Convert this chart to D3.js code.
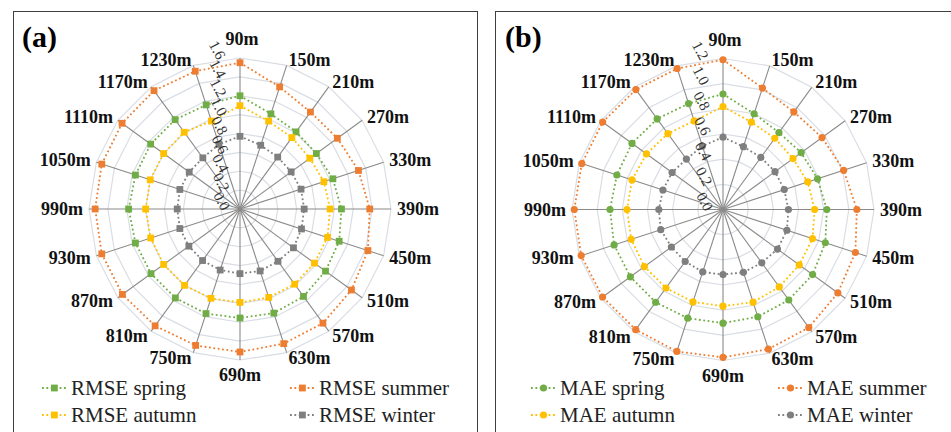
<!DOCTYPE html>
<html>
<head>
<meta charset="utf-8">
<script src="https://cdn.jsdelivr.net/npm/d3@7"></script>
<style>
  body { margin: 0; background: #fff; }
  svg { display: block; }
  text { font-family: "Liberation Serif", "Times New Roman", serif; }
</style>
</head>
<body>
<svg id="chart" width="951" height="432"></svg>
<script>
// categories (spokes, clockwise from the top)
const heights = ["90m", "150m", "210m", "270m", "330m", "390m", "450m", "510m", "570m", "630m",
  "690m", "750m", "810m", "870m", "930m", "990m", "1050m", "1110m", "1170m", "1230m"];

// panel (a) RMSE
const rmseSpring = [1.20, 1.06, 1.01, 1.00, 1.035, 1.075, 1.105, 1.12, 1.145, 1.16,
  1.155, 1.165, 1.165, 1.165, 1.165, 1.18, 1.165, 1.17, 1.17, 1.16];
const rmseSummer = [1.55, 1.36, 1.27, 1.275, 1.32, 1.375, 1.425, 1.46, 1.495, 1.50,
  1.515, 1.52, 1.53, 1.54, 1.54, 1.535, 1.54, 1.545, 1.55, 1.535];
const rmseAutumn = [1.095, 0.98, 0.935, 0.915, 0.935, 0.955, 0.975, 0.975, 0.985, 0.985,
  0.99, 0.995, 1.0, 1.0, 0.995, 1.0, 1.0, 1.0, 1.005, 0.98];
const rmseWinter = [0.77, 0.71, 0.68, 0.67, 0.68, 0.68, 0.685, 0.70, 0.685, 0.69,
  0.685, 0.68, 0.675, 0.67, 0.67, 0.665, 0.67, 0.665, 0.67, 0.72];
const rmseTicks = [0, 0.2, 0.4, 0.6, 0.8, 1.0, 1.2, 1.4, 1.6];

// panel (b) MAE
const maeSpring = [0.918, 0.80, 0.756, 0.768, 0.79, 0.825, 0.855, 0.88, 0.889, 0.896,
  0.903, 0.908, 0.911, 0.91, 0.91, 0.898, 0.887, 0.894, 0.89, 0.885];
const maeSummer = [1.19, 1.015, 0.958, 0.973, 1.008, 1.064, 1.106, 1.128, 1.16, 1.167,
  1.175, 1.186, 1.18, 1.183, 1.185, 1.182, 1.18, 1.182, 1.178, 1.178];
const maeAutumn = [0.818, 0.73, 0.70, 0.688, 0.708, 0.728, 0.748, 0.749, 0.761, 0.774,
  0.768, 0.772, 0.771, 0.772, 0.767, 0.763, 0.76, 0.752, 0.745, 0.74];
const maeWinter = [0.575, 0.525, 0.512, 0.511, 0.512, 0.52, 0.534, 0.535, 0.524, 0.525,
  0.517, 0.522, 0.511, 0.507, 0.52, 0.51, 0.502, 0.50, 0.495, 0.53];
const maeTicks = [0, 0.2, 0.4, 0.6, 0.8, 1.0, 1.2];

const seasonNames = ["spring", "summer", "autumn", "winter"];
const seasonColors = ["#70AD47", "#ED7D31", "#FFC000", "#7F7F7F"];

const svg = d3.select("#chart");
const R = 151;

function drawPanel(opt) {
  const g = svg.append("g");

  // frame
  g.append("rect")
    .attr("x", opt.frame[0] + 0.5).attr("y", 11.5)
    .attr("width", opt.frame[1] - opt.frame[0]).attr("height", 440)
    .attr("fill", "#fff").attr("stroke", "#3f3f3f").attr("stroke-width", 1);

  g.append("text")
    .attr("x", opt.titleX).attr("y", 47)
    .attr("font-size", 30).attr("font-weight", "bold")
    .text(opt.title);

  const n = heights.length;
  const angle = d3.scaleLinear().domain([0, n]).range([0, 2 * Math.PI]);
  const r = d3.scaleLinear().domain([0, d3.max(opt.ticks)]).range([0, R]);

  const plot = g.append("g").attr("transform", `translate(${opt.cx},${opt.cy})`);

  // grid rings (polygons)
  const ring = d3.lineRadial()
    .angle((d, i) => angle(i))
    .radius(d => r(d))
    .curve(d3.curveLinearClosed);
  plot.selectAll(".ring")
    .data(opt.ticks.slice(1))
    .enter().append("path")
    .attr("d", t => ring(heights.map(() => t)))
    .attr("fill", "none")
    .attr("stroke", "#d9dde4")
    .attr("stroke-width", 1.2);

  // spokes
  plot.selectAll(".spoke")
    .data(heights)
    .enter().append("line")
    .attr("x1", 0).attr("y1", 0)
    .attr("x2", (d, i) => d3.pointRadial(angle(i), R)[0])
    .attr("y2", (d, i) => d3.pointRadial(angle(i), R)[1])
    .attr("stroke", "#8a8a8a")
    .attr("stroke-width", 1.1);

  // category labels
  plot.selectAll(".cat")
    .data(heights)
    .enter().append("text")
    .attr("font-size", 18).attr("font-weight", "bold").attr("fill", "#111")
    .each(function (d, i) {
      const a = angle(i);
      const [px, py] = d3.pointRadial(a, R + 6);
      const s = Math.sin(a);
      const t = d3.select(this);
      if (i === 0) {
        t.attr("x", px + 2).attr("y", py - 7).attr("text-anchor", "middle");
      } else if (i === n / 2) {
        t.attr("x", px).attr("y", py + 15).attr("text-anchor", "middle");
      } else {
        t.attr("x", px).attr("y", py + 6).attr("text-anchor", s > 0 ? "start" : "end");
      }
      t.text(d);
    });

  // series
  const line = d3.lineRadial()
    .angle((d, i) => angle(i))
    .radius(d => r(d))
    .curve(d3.curveLinearClosed);

  opt.series.forEach((vals, k) => {
    const col = seasonColors[k];
    plot.append("path")
      .attr("d", line(vals))
      .attr("fill", "none")
      .attr("stroke", col)
      .attr("stroke-width", 1.8)
      .attr("stroke-dasharray", "1.8,2.6");
    const pts = vals.map((v, i) => d3.pointRadial(angle(i), r(v)));
    if (opt.marker === "square") {
      plot.selectAll(null).data(pts).enter().append("rect")
        .attr("x", p => p[0] - 3.4).attr("y", p => p[1] - 3.4)
        .attr("width", 6.8).attr("height", 6.8)
        .attr("fill", col);
    } else {
      plot.selectAll(null).data(pts).enter().append("circle")
        .attr("cx", p => p[0]).attr("cy", p => p[1])
        .attr("r", 3.6)
        .attr("fill", col);
    }
  });

  // radial axis labels
  plot.selectAll(".tick")
    .data(opt.ticks)
    .enter().append("text")
    .attr("font-size", 15).attr("fill", "#333")
    .attr("text-anchor", "middle")
    .attr("dy", "0.35em")
    .attr("transform", t => `translate(${-18 - r(t) * 0.03},${-r(t) - 8}) rotate(62)`)
    .text(t => t.toFixed(1));

  // legend
  const rows = [[0, 0], [1, 0], [0, 1], [1, 1]];
  seasonNames.forEach((s, k) => {
    const [colIdx, rowIdx] = rows[k];
    const x0 = opt.legendX[colIdx];
    const y0 = 388 + rowIdx * 27;
    const col = seasonColors[k];
    const lg = g.append("g");
    lg.append("line")
      .attr("x1", x0).attr("x2", x0 + 25).attr("y1", y0).attr("y2", y0)
      .attr("stroke", col).attr("stroke-width", 1.8)
      .attr("stroke-dasharray", "1.8,2.6");
    if (opt.marker === "square") {
      lg.append("rect").attr("x", x0 + 9).attr("y", y0 - 3.4)
        .attr("width", 6.8).attr("height", 6.8).attr("fill", col);
    } else {
      lg.append("circle").attr("cx", x0 + 12.5).attr("cy", y0).attr("r", 3.6).attr("fill", col);
    }
    lg.append("text")
      .attr("x", x0 + 29).attr("y", y0).attr("dy", "0.33em")
      .attr("font-size", 21).attr("fill", "#222")
      .text(opt.metric + " " + s);
  });
}

drawPanel({
  frame: [13, 477], title: "(a)", titleX: 22,
  cx: 240, cy: 209, ticks: rmseTicks, marker: "square", metric: "RMSE",
  series: [rmseSpring, rmseSummer, rmseAutumn, rmseWinter],
  legendX: [42, 290]
});

drawPanel({
  frame: [495, 955], title: "(b)", titleX: 505,
  cx: 723, cy: 209.5, ticks: maeTicks, marker: "circle", metric: "MAE",
  series: [maeSpring, maeSummer, maeAutumn, maeWinter],
  legendX: [531, 778]
});
</script>
</body>
</html>
